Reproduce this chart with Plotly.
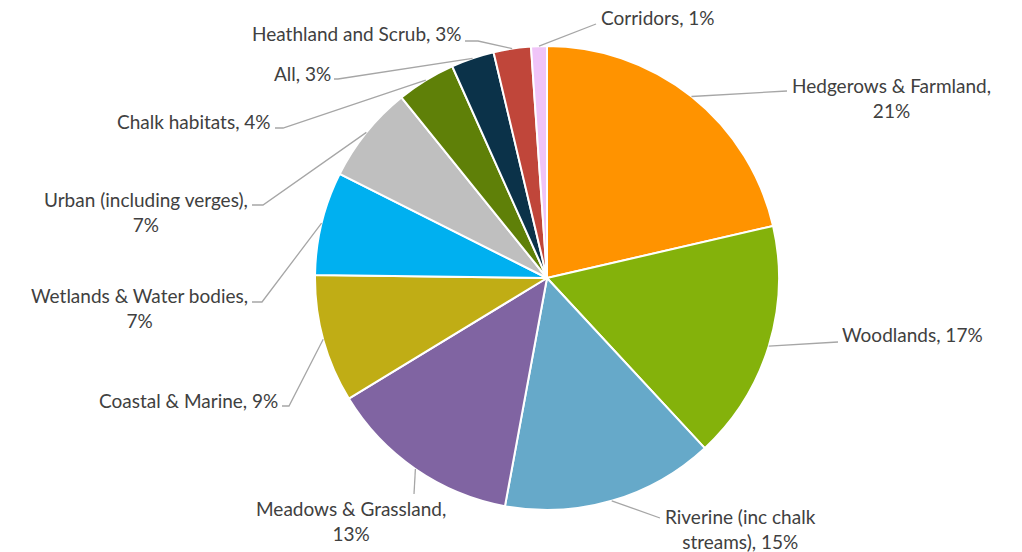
import math
import plotly.graph_objects as go

# Habitat categories and their share of the total (%)
categories = [
    "Hedgerows & Farmland",
    "Woodlands",
    "Riverine (inc chalk streams)",
    "Meadows & Grassland",
    "Coastal & Marine",
    "Wetlands & Water bodies",
    "Urban (including verges)",
    "Chalk habitats",
    "All",
    "Heathland and Scrub",
    "Corridors",
]
shares = [21.4, 16.7, 14.8, 13.4, 8.9, 7.2, 6.8, 4.1, 3.0, 2.6, 1.1]

colors = [
    "#FF9300", "#84B20B", "#66A9C9", "#8064A2", "#C0AD15", "#00B0F0",
    "#BFBFBF", "#5F8008", "#0B3249", "#C0463A", "#F0C4F8",
]

# How each label wraps onto two lines
name_lines = [
    "Hedgerows & Farmland", "Woodlands", "Riverine (inc chalk<br>streams)",
    "Meadows & Grassland", "Coastal & Marine", "Wetlands & Water bodies",
    "Urban (including verges)", "Chalk habitats", "All",
    "Heathland and Scrub", "Corridors",
]
pct_new_line = [True, False, False, True, False, True, True, False, False, False, False]

# Label placement in pixels: leader-line bend points, text anchor x, text centre y, side
W, H = 1022, 552
CX, CY, R = 547, 278, 232
label_layout = [
    dict(bend=[(787, 91)], tx=790, ty=98, side="left"),
    dict(bend=[(838, 342)], tx=840, ty=334, side="left"),
    dict(bend=[(660, 518)], tx=663, ty=529, side="left"),
    dict(bend=[(414, 494)], tx=351, ty=521, side="center"),
    dict(bend=[(289, 406), (282, 406)], tx=280, ty=400, side="right"),
    dict(bend=[(262, 302), (252, 302)], tx=250, ty=308, side="right"),
    dict(bend=[(263, 205), (252, 205)], tx=250, ty=212, side="right"),
    dict(bend=[(283, 128), (275, 128)], tx=273, ty=122, side="right"),
    dict(bend=[(338, 79), (334, 79)], tx=333, ty=73, side="right"),
    dict(bend=[(478, 41), (465, 41)], tx=463, ty=33, side="right"),
    dict(bend=[(596, 24)], tx=599, ty=17, side="left"),
]

total = sum(shares)


def px(x):
    return x / W


def py(y):
    return 1 - y / H


fig = go.Figure(
    go.Pie(
        labels=categories,
        values=shares,
        sort=False,
        direction="clockwise",
        rotation=0,
        textinfo="none",
        marker=dict(colors=colors, line=dict(color="white", width=2)),
        domain=dict(x=[px(CX - R), px(CX + R)], y=[py(CY + R), py(CY - R)]),
        showlegend=False,
    )
)

shapes = []
annotations = []
cum = 0.0
for name, val, wrap, lay in zip(name_lines, shares, pct_new_line, label_layout):
    mid = (cum + val / 2) / total * 2 * math.pi
    cum += val
    sx = CX + R * math.sin(mid)
    sy = CY - R * math.cos(mid)
    pts = [(sx, sy)] + lay["bend"]
    path = "M " + " L ".join(f"{px(x):.5f},{py(y):.5f}" for x, y in pts)
    shapes.append(dict(type="path", xref="paper", yref="paper", path=path,
                       line=dict(color="#A6A6A6", width=1.3)))
    pct = round(val / total * 100)
    text = f"{name},<br>{pct}%" if wrap else f"{name}, {pct}%"
    annotations.append(dict(
        x=px(lay["tx"]), y=py(lay["ty"]), xref="paper", yref="paper",
        text=text, showarrow=False, xanchor=lay["side"], yanchor="middle",
        align="center", font=dict(family="Lato", size=19, color="#404040"),
    ))

fig.update_layout(
    width=W, height=H,
    margin=dict(l=0, r=0, t=0, b=0),
    paper_bgcolor="white", plot_bgcolor="white",
    shapes=shapes, annotations=annotations,
)

fig.write_html("out.html")
